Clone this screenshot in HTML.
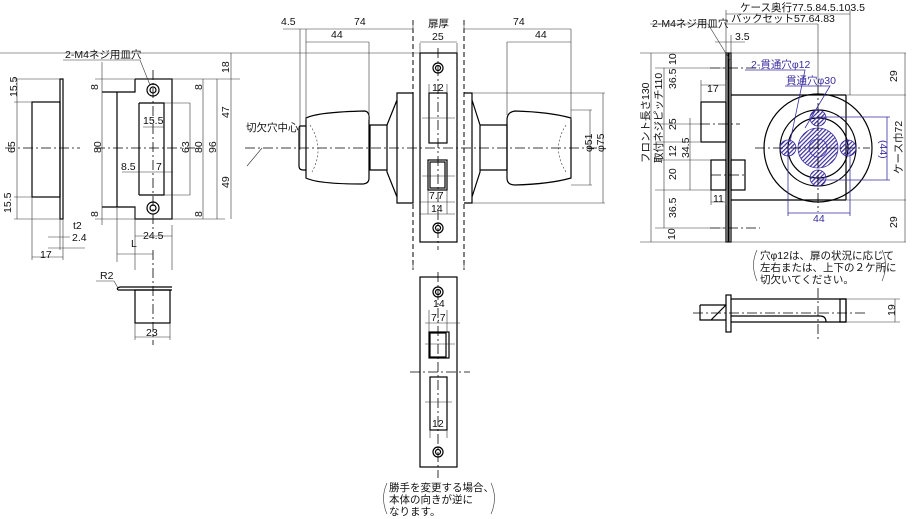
<!DOCTYPE html>
<html><head><meta charset="utf-8"><style>
html,body{margin:0;padding:0;background:#fff}
svg{display:block}
text{font-family:"Liberation Sans","Noto Sans CJK JP",sans-serif;font-size:10.5px;fill:#111}
.l{stroke:#000;stroke-width:1.2;fill:none}
.t{stroke:#333;stroke-width:0.6;fill:none}
.c{stroke:#000;stroke-width:0.8;fill:none;stroke-dasharray:10,3,2,3}
.d{stroke:#000;stroke-width:1;fill:none;stroke-dasharray:5,3}
.p{stroke:#3a2fa0;stroke-width:0.8}
</style></head><body>
<svg width="912" height="519" viewBox="0 0 912 519" xmlns="http://www.w3.org/2000/svg">
<defs><pattern id="h" width="3" height="3" patternUnits="userSpaceOnUse" patternTransform="rotate(45)"><rect x="0" y="0" width="1.2" height="3" fill="#3a2fa0"/></pattern></defs>

<!-- LEFT strike side view -->
<rect class="l" x="32" y="102" width="28" height="95"/>
<rect class="l" x="60" y="79" width="3" height="140"/>
<path class="t" d="M14 79H60 M14 102H32 M14 197H32 M14 219H60 M17 79V219 M32 197V260 M63 219V260 M60 219V250 M48 237H70 M48 248H85 M32 257H63"/>
<path class="c" d="M5 148H80"/>
<text x="6" y="98" transform="rotate(-90 11 92)">15.5</text>
<text x="6" y="152" transform="rotate(-90 11 148)">65</text>
<text x="6" y="208" transform="rotate(-90 11 208)">15.5</text>
<text x="73" y="229">t2</text><text x="72" y="241">2.4</text><text x="40" y="258">17</text>

<!-- strike front -->
<path class="l" d="M135 79H172V219H135V207H102 M102 92H135V79 M117 92V207"/>
<path class="l" d="M139 103H164V195H139 M139 103V195"/>
<path class="t" d="M164 103H190V195H164 M102 62V225 M172 225V270 M135 207V270 M117 207V262 M190 103V195"/>
<circle class="l" cx="153" cy="90" r="6"/><circle class="l" cx="153" cy="90" r="3"/>
<circle class="l" cx="153" cy="208" r="6"/><circle class="l" cx="153" cy="208" r="3"/>
<path class="c" d="M153 70V230 M95 148H200 M153 250V345"/>
<path class="t" d="M95 79H240 M95 219H225 M203 79V219 M217 79V219 M231 53V219 M0 53H420 M143 127H164 M122 172H153 M153 172H173 M135 236H172 M117 254H153 M63 60H140L150 85"/>
<text x="65" y="58">2-M4ネジ用皿穴</text>
<text x="143" y="124">15.5</text><text x="121" y="170">8.5</text><text x="156" y="170">7</text>
<text x="143" y="239">24.5</text><text x="131" y="247">L</text>
<text x="92" y="152" transform="rotate(-90 97 148)">80</text>
<text x="180" y="152" transform="rotate(-90 185 148)">63</text>
<text x="193" y="152" transform="rotate(-90 198 148)">80</text>
<text x="207" y="152" transform="rotate(-90 212 148)">96</text>
<text x="220" y="72" transform="rotate(-90 225 68)">18</text>
<text x="220" y="117" transform="rotate(-90 225 113)">47</text>
<text x="220" y="187" transform="rotate(-90 225 183)">49</text>
<text x="91" y="89" transform="rotate(-90 95 86)">8</text><text x="195" y="89" transform="rotate(-90 199 86)">8</text>
<text x="91" y="216" transform="rotate(-90 95 213)">8</text><text x="195" y="216" transform="rotate(-90 199 213)">8</text>
<!-- bottom strike box -->
<path class="l" d="M118 290H172 M120 287H172 M118 290Q116 288 120 287"/>
<rect class="l" x="135" y="290" width="35" height="33"/>
<path class="t" d="M135 323V340 M170 323V340 M135 337H170 M96 281H114L118 288"/>
<text x="100" y="279">R2</text><text x="146" y="336">23</text>

<!-- MIDDLE knobs -->
<path class="d" d="M413 20V270 M464 20V270"/>
<rect class="l" x="420" y="53" width="37" height="189"/>
<circle class="l" cx="438" cy="68" r="5"/><circle class="l" cx="438" cy="68" r="2.5"/>
<circle class="l" cx="438" cy="228" r="5"/><circle class="l" cx="438" cy="228" r="2.5"/>
<rect class="l" x="429" y="93" width="18" height="50"/>
<rect class="l" x="428" y="160" width="19" height="30"/><rect class="l" x="430" y="162" width="15" height="26"/>
<path class="c" d="M438 48V250 M245 148H600"/>
<path class="t" d="M429 93V84 M447 93V84 M422 118H455 M422 176H455 M420 43V53 M457 43V53 M420 42H457 M420 202H455 M420 214H455 M428 190V214 M447 190V214"/>
<text x="432" y="91">12</text><text x="429" y="199">7.7</text><text x="431" y="212">14</text>
<text x="428" y="27">扉厚</text><text x="432" y="40">25</text>
<!-- left knob -->
<path class="l" d="M397 93H413V203H397Z M397 100L387 125V172L397 197 M387 125H370V170H387"/>
<path class="l" d="M306 118Q318 112 365 111Q370 112 369 120V178Q369 184 362 184Q318 184 306 178Z"/>
<path class="l" d="M306 126H300Q299 126 299 130V166Q299 170 303 170H306"/>
<path class="t" d="M310 125Q325 148 312 172" stroke-dasharray="2,2"/>
<!-- right knob -->
<path class="l" d="M464 93H472V203H464 M472 100L480 125V172L472 197 M480 125H507V170H480"/>
<path class="l" d="M507 120Q507 112 515 111Q550 112 571 118V178Q550 184 515 185Q507 185 507 178Z"/>
<path class="t" d="M566 125Q551 148 566 172" stroke-dasharray="2,2"/>
<!-- top dims -->
<path class="t" d="M283 29H413 M464 29H571 M306 42H369 M507 42H571 M300 29V150 M306 29V120 M369 42V120 M571 29V120 M507 42V115 M413 20V30 M464 20V30 M472 93H605 M571 110H592 M571 185H592 M590 110V185 M603 93V203 M472 203H605 M247 166L262 148"/>
<text x="281" y="25">4.5</text><text x="354" y="25">74</text><text x="331" y="38">44</text>
<text x="513" y="25">74</text><text x="535" y="38">44</text>
<text x="246" y="131">切欠穴中心</text>
<text x="584" y="152" transform="rotate(-90 588 148)">φ51</text>
<text x="596" y="152" transform="rotate(-90 600 148)">φ75</text>

<!-- middle bottom plate -->
<path class="t" d="M413 263V270 M464 263V270"/>
<rect class="l" x="420" y="277" width="37" height="190"/>
<circle class="l" cx="438" cy="292" r="5"/><circle class="l" cx="438" cy="292" r="2.5"/>
<circle class="l" cx="438" cy="452" r="5"/><circle class="l" cx="438" cy="452" r="2.5"/>
<rect class="l" x="429" y="332" width="20" height="26"/><rect class="l" x="430" y="333" width="16" height="24"/>
<rect class="l" x="430" y="377" width="17" height="53"/>
<path class="c" d="M438 272V478 M410 372H470"/>
<path class="t" d="M429 310V332 M447 310V332 M425 323H460 M425 344H455 M425 402H452 M430 430V438 M447 430V438"/>
<text x="433" y="307">14</text><text x="431" y="321">7.7</text><text x="432" y="427">12</text>
<text x="389" y="491">勝手を変更する場合、</text><text x="389" y="503">本体の向きが逆に</text><text x="389" y="515">なります。</text>
<path class="t" d="M387 483Q380 498 387 514 M491 483Q498 498 491 514"/>

<!-- RIGHT view -->
<rect class="l" x="726" y="53" width="2" height="189"/><rect class="l" x="729" y="53" width="2" height="189"/>
<path class="l" d="M731 95H846 M731 200H846 M846 95V200"/>
<circle class="l" cx="818" cy="148" r="54"/><circle class="l" cx="818" cy="148" r="38"/><circle class="l" cx="818" cy="148" r="30"/>
<circle cx="818" cy="148" r="20" fill="url(#h)" class="p"/><circle cx="818" cy="148" r="9" fill="none" class="p"/>
<circle cx="788" cy="148" r="8" fill="url(#h)" class="p"/><circle cx="848" cy="148" r="8" fill="url(#h)" class="p"/>
<circle cx="818" cy="118" r="8" fill="url(#h)" class="p"/><circle cx="818" cy="178" r="8" fill="url(#h)" class="p"/>
<path class="c" d="M755 148H870 M818 85V212 M710 68H760 M710 228H760 M700 124H740 M711 175H745"/>
<rect class="l" x="701" y="102" width="25" height="40"/>
<rect class="l" x="711" y="160" width="15" height="30"/><rect class="l" x="731" y="160" width="14" height="30"/>
<path class="p" fill="none" d="M818 117H890 M818 180H890 M887 117V180 M788 148V216 M850 148V216 M788 213H850 M745 70H805L790 142 M785 86H830L805 128"/>
<text x="751" y="68" style="fill:#3a2fa0">2-貫通穴φ12</text>
<text x="786" y="84" style="fill:#3a2fa0">貫通穴φ30</text>
<text x="813" y="222" style="fill:#3a2fa0">44</text>
<text x="876" y="152" transform="rotate(90 884 148)" style="fill:#3a2fa0">(44)</text>
<text x="872" y="152" transform="rotate(-90 898 148)">ケース巾72</text>
<path class="t" d="M640 53H906 M640 242H906 M726 10V53 M850 10V95 M726 14H850 M726 24H818 M818 24V90 M715 42H745 M731 35V53 M905 53V242 M846 95H906 M846 200H906 M651 53V242 M664 68V228 M655 68H726 M655 228H726 M655 124H700 M655 142H700 M655 160H711 M655 190H711 M690 118V190 M701 80V102 M726 80V102 M701 85H726 M711 190V205 M726 190V205 M711 202H726 M650 24H708L730 60"/>
<text x="740" y="11">ケース奥行77.5.84.5.103.5</text>
<text x="731" y="22">バックセット57.64.83</text>
<text x="735" y="40">3.5</text>
<text x="652" y="27">2-M4ネジ用皿穴</text>
<text x="707" y="92">17</text><text x="713" y="202">11</text>
<text x="630" y="152" transform="rotate(-90 645 148)">フロント長さ130</text>
<text x="643" y="152" transform="rotate(-90 658 148)">取付ネジピッチ110</text>
<text x="667" y="64" transform="rotate(-90 672 60)">10</text>
<text x="667" y="88" transform="rotate(-90 672 84)">36.5</text>
<text x="667" y="129" transform="rotate(-90 672 125)">25</text>
<text x="667" y="156" transform="rotate(-90 672 152)">12</text>
<text x="667" y="179" transform="rotate(-90 672 175)">20</text>
<text x="667" y="217" transform="rotate(-90 672 213)">36.5</text>
<text x="667" y="238" transform="rotate(-90 672 235)">10</text>
<text x="680" y="155" transform="rotate(-90 686 152)">34.5</text>
<text x="885" y="78" transform="rotate(-90 893 74)">29</text>
<text x="885" y="224" transform="rotate(-90 893 220)">29</text>
<!-- note -->
<text x="760" y="259">穴φ12は、扉の状況に応じて</text>
<text x="760" y="271">左右または、上下の２ケ所に</text>
<text x="760" y="283">切欠いてください。</text>
<path class="t" d="M757 250Q750 265 757 281 M882 250Q889 265 882 281"/>
<!-- bottom right side view -->
<rect class="l" x="726" y="295" width="5" height="37"/>
<path class="l" d="M731 299H846V322H731 M700 305H726 M700 305V320H726 M711 320L726 305 M731 316H820Q826 316 826 322"/>
<rect class="l" x="840" y="299" width="6" height="23"/>
<path class="c" d="M693 313H865 M818 288V340"/>
<path class="t" d="M846 299H900 M846 322H900 M895 299V322"/>
<text x="885" y="316" transform="rotate(-90 890 311)">19</text>
</svg>
</body></html>
